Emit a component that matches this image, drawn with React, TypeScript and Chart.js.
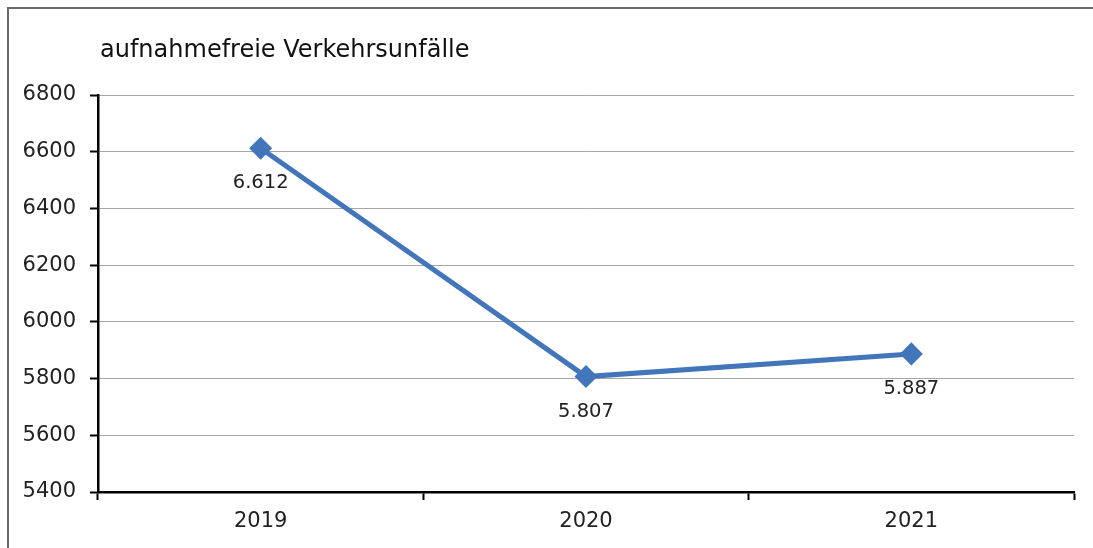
import React, { useEffect, useRef } from "react";
import { Chart, registerables } from "chart.js";

Chart.register(...registerables);

const categories = ["2019", "2020", "2021"];
const values = [6612, 5807, 5887];
const valueLabels = ["6.612", "5.807", "5.887"];
const titleText = "aufnahmefreie Verkehrsunfälle";

const FONT = "'DejaVu Sans', sans-serif";

const framePlugin = {
  id: "frame",
  beforeDraw(chart: any) {
    const ctx = chart.ctx;
    ctx.save();
    ctx.fillStyle = "#ffffff";
    ctx.fillRect(0, 0, chart.width, chart.height);
    ctx.strokeStyle = "#6a6a6a";
    ctx.lineWidth = 2;
    ctx.beginPath();
    ctx.moveTo(8, chart.height);
    ctx.lineTo(8, 8);
    ctx.lineTo(chart.width, 8);
    ctx.stroke();
    ctx.restore();
  },
  afterDraw(chart: any) {
    const ctx = chart.ctx;
    ctx.save();
    ctx.fillStyle = "#111111";
    ctx.font = `24px ${FONT}`;
    ctx.textAlign = "left";
    ctx.textBaseline = "alphabetic";
    ctx.fillText(titleText, 100, 57);
    const meta = chart.getDatasetMeta(0);
    ctx.font = `19.5px ${FONT}`;
    ctx.fillStyle = "#222222";
    ctx.textAlign = "center";
    ctx.textBaseline = "middle";
    meta.data.forEach((pt: any, i: number) => {
      ctx.fillText(valueLabels[i], pt.x, pt.y + 35);
    });
    ctx.restore();
  },
};

export default function App() {
  const ref = useRef<HTMLCanvasElement>(null);
  useEffect(() => {
    if (!ref.current) return;
    const chart = new Chart(ref.current, {
      type: "line",
      data: {
        labels: categories,
        datasets: [
          {
            data: values,
            borderColor: "#4275ba",
            backgroundColor: "#4275ba",
            borderWidth: 5,
            pointStyle: "rectRot",
            pointRadius: 8,
            pointHoverRadius: 8,
            tension: 0,
          },
        ],
      },
      options: {
        responsive: false,
        animation: false,
        layout: { padding: { top: 95, right: 19, left: 0, bottom: 0 } },
        plugins: {
          legend: { display: false },
          tooltip: { enabled: false },
          title: { display: false },
        },
        scales: {
          x: {
            offset: true,
            grid: {
              offset: true,
              drawOnChartArea: false,
              drawTicks: true,
              tickLength: 8,
              tickColor: "#000000",
              tickWidth: 2,
            },
            border: { color: "#000000", width: 2.5 },
            ticks: { color: "#222222", font: { family: FONT, size: 21 }, padding: 9 },
            afterFit(scale: any) {
              scale.height = 56;
            },
          },
          y: {
            min: 5400,
            max: 6800,
            ticks: {
              stepSize: 200,
              color: "#222222",
              font: { family: FONT, size: 21 },
              padding: 14,
              callback: (v: any) => String(v),
            },
            grid: {
              color: (c: any) => (c.tick && c.tick.value === 5400 ? "rgba(0,0,0,0)" : "#a6a6a6"),
              lineWidth: 1,
              drawTicks: true,
              tickLength: 8,
              tickColor: "#000000",
              tickWidth: 2,
            },
            border: { color: "#000000", width: 2.5 },
            afterFit(scale: any) {
              scale.width = 98;
            },
          },
        },
      },
      plugins: [framePlugin],
    });
    return () => chart.destroy();
  }, []);
  return (
    <div style={{ position: "fixed", left: 0, top: 0, width: 1093, height: 548 }}>
      <canvas ref={ref} width={1093} height={548} />
    </div>
  );
}
